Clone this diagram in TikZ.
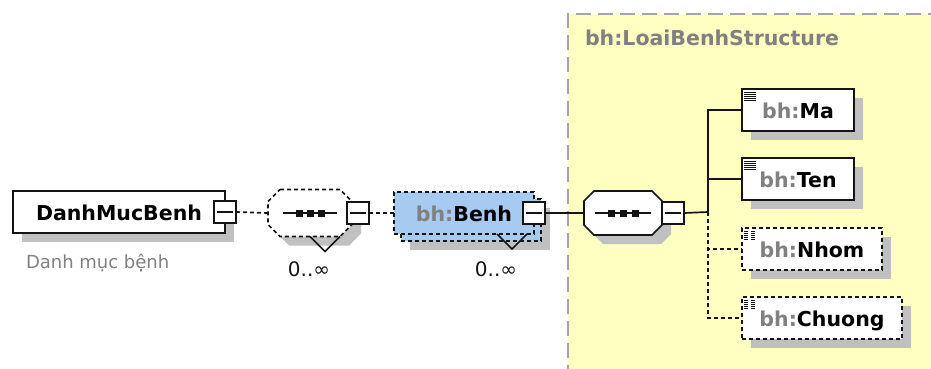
\documentclass[tikz,border=0pt]{standalone}
\usepackage{fontspec}
\setmainfont{DejaVu Sans}
\usetikzlibrary{calc}
\definecolor{ylw}{RGB}{255,255,194}
\definecolor{blu}{RGB}{166,202,240}
\definecolor{shd}{RGB}{192,192,192}
\definecolor{brd}{RGB}{165,165,165}
\definecolor{pfx}{RGB}{128,128,128}
\definecolor{ink}{RGB}{20,20,20}
\pgfdeclarelayer{back}
\pgfdeclarelayer{bg}
\pgfsetlayers{back,bg,main}
\newcommand\octo[2]{([xshift=#2]#1.north west) -- ([xshift=-#2]#1.north east) -- ([yshift=-#2]#1.north east) -- ([yshift=#2]#1.south east) -- ([xshift=-#2]#1.south east) -- ([xshift=#2]#1.south west) -- ([yshift=#2]#1.south west) -- ([yshift=-#2]#1.north west) -- cycle}
\newcommand\shadowof[1]{\fill[shd] ([shift={(9pt,-9pt)}]#1.north west) rectangle ([shift={(9pt,-9pt)}]#1.south east);}
\tikzset{
  every node/.style={inner sep=0pt, outer sep=0pt},
  conn/.style={line width=1.7pt, draw=ink},
  opt/.style={dash pattern=on 4pt off 3pt},
  boxfont/.style={font=\fontsize{20.5}{24}\selectfont\bfseries},
  elem/.style={conn, fill=white, minimum height=42pt, text height=18pt, text depth=1pt, boxfont},
  docelem/.style={elem, path picture={
      \foreach \i in {0,...,4}
        \draw[ink, line width=0.9pt] ([shift={(2pt,-3pt-2*\i pt)}]path picture bounding box.north west) -- ++(12pt,0pt);}},
  btn/.style={conn, fill=white, minimum width=22pt, minimum height=22pt,
    path picture={\draw[ink, line width=1.5pt] ([xshift=3pt]path picture bounding box.west) -- ([xshift=-3pt]path picture bounding box.east);}},
  sqr/.style={fill=ink, minimum size=7pt},
  card/.style={font=\fontsize{20}{22}\selectfont, text=ink, anchor=base},
}
\begin{document}
\begin{tikzpicture}[x=1pt,y=-1pt]
\useasboundingbox (0,0) rectangle (931,369);

% complex type area
\begin{pgfonlayer}{back}
  \fill[ylw] (568,14) rectangle (940,380);
  \draw[brd, line width=2pt, dash pattern=on 15pt off 7pt] (568,380) -- (568,14) -- (940,14);
\end{pgfonlayer}
\node[boxfont, text=pfx, anchor=base west] (title) at (585,46) {bh:LoaiBenhStructure};

% root element
\node[elem, minimum width=212pt] (root) at (119,212) {DanhMucBenh};
\node[btn] (rootb) at (root.east) {};
\node[anchor=base west, font=\fontsize{18}{20}\selectfont, text=pfx] (desc) at (26,268) {Danh mục bệnh};

% optional sequence
\node[minimum width=84pt, minimum height=47pt] (ds) at (310,213) {};
\node[minimum width=84pt, minimum height=47pt] (dsS) at (319,222) {};
\node[btn, anchor=west] (dsb) at ([xshift=-5pt]ds.east) {};

% Benh (repeating element)
\node[elem, opt, fill=blu, minimum width=140pt] (benhb) at (471,220) {};
\node[elem, opt, fill=blu, minimum width=140pt] (benh) at (464,213) {{\color{pfx}bh:}Benh};
\node[btn] (benhbtn) at (benh.east) {};

% mandatory sequence
\node[minimum width=78pt, minimum height=44pt] (ss) at (623,213) {};
\node[minimum width=78pt, minimum height=44pt] (ssS) at (632,222) {};
\node[btn, anchor=west] (ssb) at (ss.east) {};

% child elements
\node[docelem, minimum width=112pt] (ma) at (798,110) {{\color{pfx}bh:}Ma};
\node[docelem, minimum width=112pt] (ten) at (798,179) {{\color{pfx}bh:}Ten};
\node[docelem, opt, minimum width=140pt] (nhom) at (812,249) {{\color{pfx}bh:}Nhom};
\node[docelem, opt, minimum width=160pt] (chuong) at (822,318) {{\color{pfx}bh:}Chuong};

% shadows
\begin{pgfonlayer}{bg}
  \shadowof{root}
  \shadowof{benhb}
  \shadowof{ma}
  \shadowof{ten}
  \shadowof{nhom}
  \shadowof{chuong}
  \fill[shd] \octo{dsS}{12pt};
  \fill[shd] \octo{ssS}{10pt};
\end{pgfonlayer}

% octagons
\begin{pgfonlayer}{bg}
  \filldraw[conn, opt, fill=white] \octo{ds}{12pt};
  \filldraw[conn, fill=white] \octo{ss}{10pt};
  \draw[conn] ([xshift=-27pt]ds.center) -- ([xshift=27pt]ds.center);
  \draw[conn] ([xshift=-28pt]ss.center) -- ([xshift=28pt]ss.center);
\end{pgfonlayer}
\node[sqr] (d1) at ([xshift=-11pt]ds.center) {};
\node[sqr] (d2) at (ds.center) {};
\node[sqr] (d3) at ([xshift=11pt]ds.center) {};
\node[sqr] (s1) at ([xshift=-12pt]ss.center) {};
\node[sqr] (s2) at (ss.center) {};
\node[sqr] (s3) at ([xshift=12pt]ss.center) {};

% repetition marks
\draw[conn] (ds.south) -- ++(15,15) -- ++(15,-15);
\draw[conn] ([xshift=33pt]benh.south) -- ++(15,15) -- ++(15,-15);
\node[card] (c1) at (309,276) {0..∞};
\node[card] (c2) at (496,276) {0..∞};

% connectors
\draw[conn, opt] (rootb.east) -- (ds.west);
\draw[conn, opt] (dsb.east) -- (benh.west);
\draw[conn] (benhbtn.east) -- (ss.west);
\coordinate (j) at (708,212);
\draw[conn] (ssb.east) -- (j);
\draw[conn] (j) |- (ma.west);
\draw[conn] (j) |- (ten.west);
\draw[conn, opt] (j) |- (nhom.west);
\draw[conn, opt] (j) |- (chuong.west);
\end{tikzpicture}
\end{document}
